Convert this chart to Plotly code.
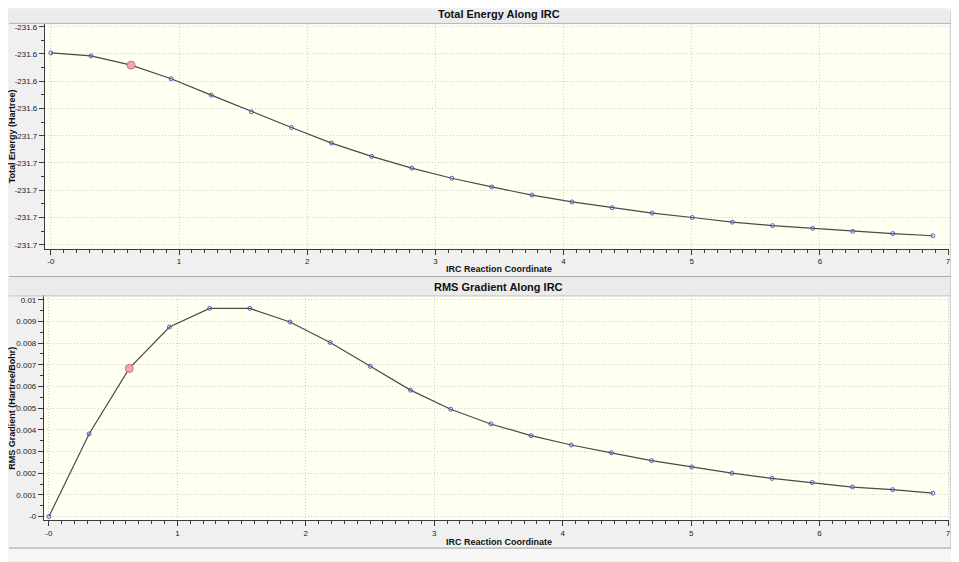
import plotly.graph_objects as go

# ---------------- data ----------------
irc_coord = [0.0, 0.3128, 0.6256, 0.9384, 1.2512, 1.5640, 1.8768, 2.1896, 2.5024,
             2.8152, 3.1280, 3.4408, 3.7536, 4.0664, 4.3792, 4.6920, 5.0048,
             5.3176, 5.6304, 5.9432, 6.2560, 6.5688, 6.8816]

total_energy = [-231.6196, -231.6207, -231.6241, -231.6291, -231.6351, -231.6412,
                -231.6470, -231.6527, -231.6576, -231.6619, -231.6656, -231.6688,
                -231.6718, -231.6743, -231.6764, -231.6784, -231.6800, -231.6817,
                -231.6830, -231.6840, -231.6851, -231.6859, -231.6867]

rms_gradient = [0.0, 0.00381, 0.00683, 0.00874, 0.00960, 0.00960, 0.00897,
                0.00803, 0.00693, 0.00583, 0.00495, 0.00427, 0.00373, 0.00330,
                0.00294, 0.00258, 0.00229, 0.00200, 0.00176, 0.00157, 0.00136,
                0.00124, 0.00108]

highlight_index = 2

x_tickvals = [0, 1, 2, 3, 4, 5, 6, 7]
x_ticktext = ["-0", "1", "2", "3", "4", "5", "6", "7"]

energy_tickvals = [-231.61, -231.62, -231.63, -231.64, -231.65, -231.66, -231.67, -231.68, -231.69]
energy_ticktext = ["-231.6", "-231.6", "-231.6", "-231.6", "-231.7", "-231.7", "-231.7", "-231.7", "-231.7"]

grad_tickvals = [0.01, 0.009, 0.008, 0.007, 0.006, 0.005, 0.004, 0.003, 0.002, 0.001, 0.0]
grad_ticktext = ["0.01", "0.009", "0.008", "0.007", "0.006", "0.005", "0.004", "0.003", "0.002", "0.001", "-0"]

title_top = "Total Energy Along IRC"
title_bottom = "RMS Gradient Along IRC"
x_title = "IRC Reaction Coordinate"
y_title_top = "Total Energy (Hartree)"
y_title_bottom = "RMS Gradient (Hartree/Bohr)"

# ---------------- layout helpers ----------------
# the page body adds an 8px offset, so the figure is laid out in screen pixels minus 8
OFF = 8
W, H = 959 - OFF, 562 - OFF


def fx(p):
    return max(0.0, min(1.0, (p - OFF) / W))


def fy(p):
    return max(0.0, min(1.0, 1 - (p - OFF) / H))


FONT = "Liberation Sans, Arial, sans-serif"
LINE_COLOR = "#4a4a4a"
MARKER_COLOR = "#5b5bb8"
GRID_COLOR = "#cfcfcf"
AXIS_COLOR = "#3a3a3a"

fig = go.Figure()

for ydata, xa, ya in [(total_energy, "x", "y"), (rms_gradient, "x2", "y2")]:
    fig.add_trace(go.Scatter(
        x=irc_coord, y=ydata, xaxis=xa, yaxis=ya, mode="lines+markers",
        line=dict(color=LINE_COLOR, width=1.2),
        marker=dict(symbol="circle-open", size=4, color=MARKER_COLOR,
                    line=dict(width=1, color=MARKER_COLOR)),
        showlegend=False, hoverinfo="x+y"))
    fig.add_trace(go.Scatter(
        x=[irc_coord[highlight_index]], y=[ydata[highlight_index]],
        xaxis=xa, yaxis=ya, mode="markers",
        marker=dict(symbol="circle", size=8, color="#f2a6b8",
                    line=dict(width=1, color="#d46a88")),
        showlegend=False, hoverinfo="x+y"))

common_x = dict(
    tickmode="array", tickvals=x_tickvals, ticktext=x_ticktext,
    ticks="outside", ticklen=5, tickwidth=1, tickcolor=AXIS_COLOR,
    showline=True, linecolor=AXIS_COLOR, linewidth=1,
    showgrid=True, gridcolor=GRID_COLOR, griddash="1px,2px", gridwidth=1,
    zeroline=False,
    minor=dict(tickmode="linear", tick0=0, dtick=0.1, ticklen=3,
               tickcolor=AXIS_COLOR, showgrid=False),
    tickfont=dict(family=FONT, size=8, color="#222222"),
)

common_y = dict(
    tickmode="array",
    ticks="outside", ticklen=5, tickwidth=1, tickcolor=AXIS_COLOR,
    showline=True, linecolor=AXIS_COLOR, linewidth=1,
    showgrid=True, gridcolor=GRID_COLOR, griddash="1px,2px", gridwidth=1,
    zeroline=False,
    tickfont=dict(family=FONT, size=8, color="#222222"),
)

fig.update_layout(
    width=W, height=H,
    margin=dict(l=0, r=0, t=0, b=0),
    paper_bgcolor="#f0f0f0",
    plot_bgcolor="#fffff2",
    font=dict(family=FONT, color="#111111"),
    xaxis=dict(common_x, domain=[fx(45), fx(951)], range=[-0.0467, 7.0078], anchor="y"),
    yaxis=dict(common_y, domain=[fy(248), fy(22.5)],
               range=[-231.69146, -231.60916],
               tickvals=energy_tickvals, ticktext=energy_ticktext,
               minor=dict(tickmode="linear", tick0=-231.61, dtick=0.005, ticklen=3,
                          tickcolor=AXIS_COLOR, showgrid=False),
               anchor="x"),
    xaxis2=dict(common_x, domain=[fx(44), fx(951)], range=[-0.0388, 7.0078], anchor="y2"),
    yaxis2=dict(common_y, domain=[fy(521), fy(295)],
                range=[-0.00017, 0.010197],
                tickvals=grad_tickvals, ticktext=grad_ticktext,
                minor=dict(tickmode="linear", tick0=0, dtick=0.0005, ticklen=3,
                           tickcolor=AXIS_COLOR, showgrid=False),
                anchor="x2"),
)

# frame / panel separators (decoration)
shapes = [
    dict(type="rect", xref="paper", yref="paper", x0=0, x1=1, y0=fy(562), y1=fy(549),
         fillcolor="#f6f6f6", line=dict(width=0), layer="below"),
    dict(type="rect", xref="paper", yref="paper", x0=fx(4), x1=fx(953), y0=fy(21.5), y1=fy(9),
         fillcolor="#ebebeb", line=dict(width=0), layer="below"),
    dict(type="rect", xref="paper", yref="paper", x0=fx(4), x1=fx(953), y0=fy(295.5), y1=fy(277),
         fillcolor="#ebebeb", line=dict(width=0), layer="below"),
    dict(type="line", xref="paper", yref="paper", x0=fx(956), x1=fx(956), y0=fy(9), y1=fy(549),
         line=dict(color="#8a8a8a", width=1.5)),
    dict(type="line", xref="paper", yref="paper", x0=fx(953), x1=fx(953), y0=fy(9), y1=fy(549),
         line=dict(color="#b8b8b8", width=1)),
    dict(type="line", xref="paper", yref="paper", x0=fx(9), x1=fx(953), y0=fy(21.5), y1=fy(21.5),
         line=dict(color="#b5b5b5", width=1)),
    dict(type="line", xref="paper", yref="paper", x0=fx(9), x1=fx(953), y0=fy(276), y1=fy(276),
         line=dict(color="#a8a8a8", width=1)),
    dict(type="line", xref="paper", yref="paper", x0=fx(9), x1=fx(953), y0=fy(295.5), y1=fy(295.5),
         line=dict(color="#c4c4c4", width=1)),
    dict(type="line", xref="paper", yref="paper", x0=fx(9), x1=fx(956), y0=fy(549), y1=fy(549),
         line=dict(color="#a0a0a0", width=1)),
]
fig.update_layout(shapes=shapes)

annotations = [
    dict(text=f"<b>{title_top}</b>", x=fx(500), y=fy(12.5), font=dict(size=11, family=FONT, color="#111")),
    dict(text=f"<b>{title_bottom}</b>", x=fx(500), y=fy(287), font=dict(size=11, family=FONT, color="#111")),
    dict(text=f"<b>{x_title}</b>", x=fx(500), y=fy(268.5), font=dict(size=9, family=FONT, color="#111")),
    dict(text=f"<b>{x_title}</b>", x=fx(500), y=fy(543), font=dict(size=9, family=FONT, color="#111")),
    dict(text=f"<b>{y_title_top}</b>", x=fx(12), y=fy(135), textangle=-90,
         font=dict(size=9, family=FONT, color="#111")),
    dict(text=f"<b>{y_title_bottom}</b>", x=fx(12), y=fy(408), textangle=-90,
         font=dict(size=9, family=FONT, color="#111")),
]
for a in annotations:
    a.update(xref="paper", yref="paper", showarrow=False, xanchor="center", yanchor="middle")
fig.update_layout(annotations=annotations)

fig.write_html("out.html")
